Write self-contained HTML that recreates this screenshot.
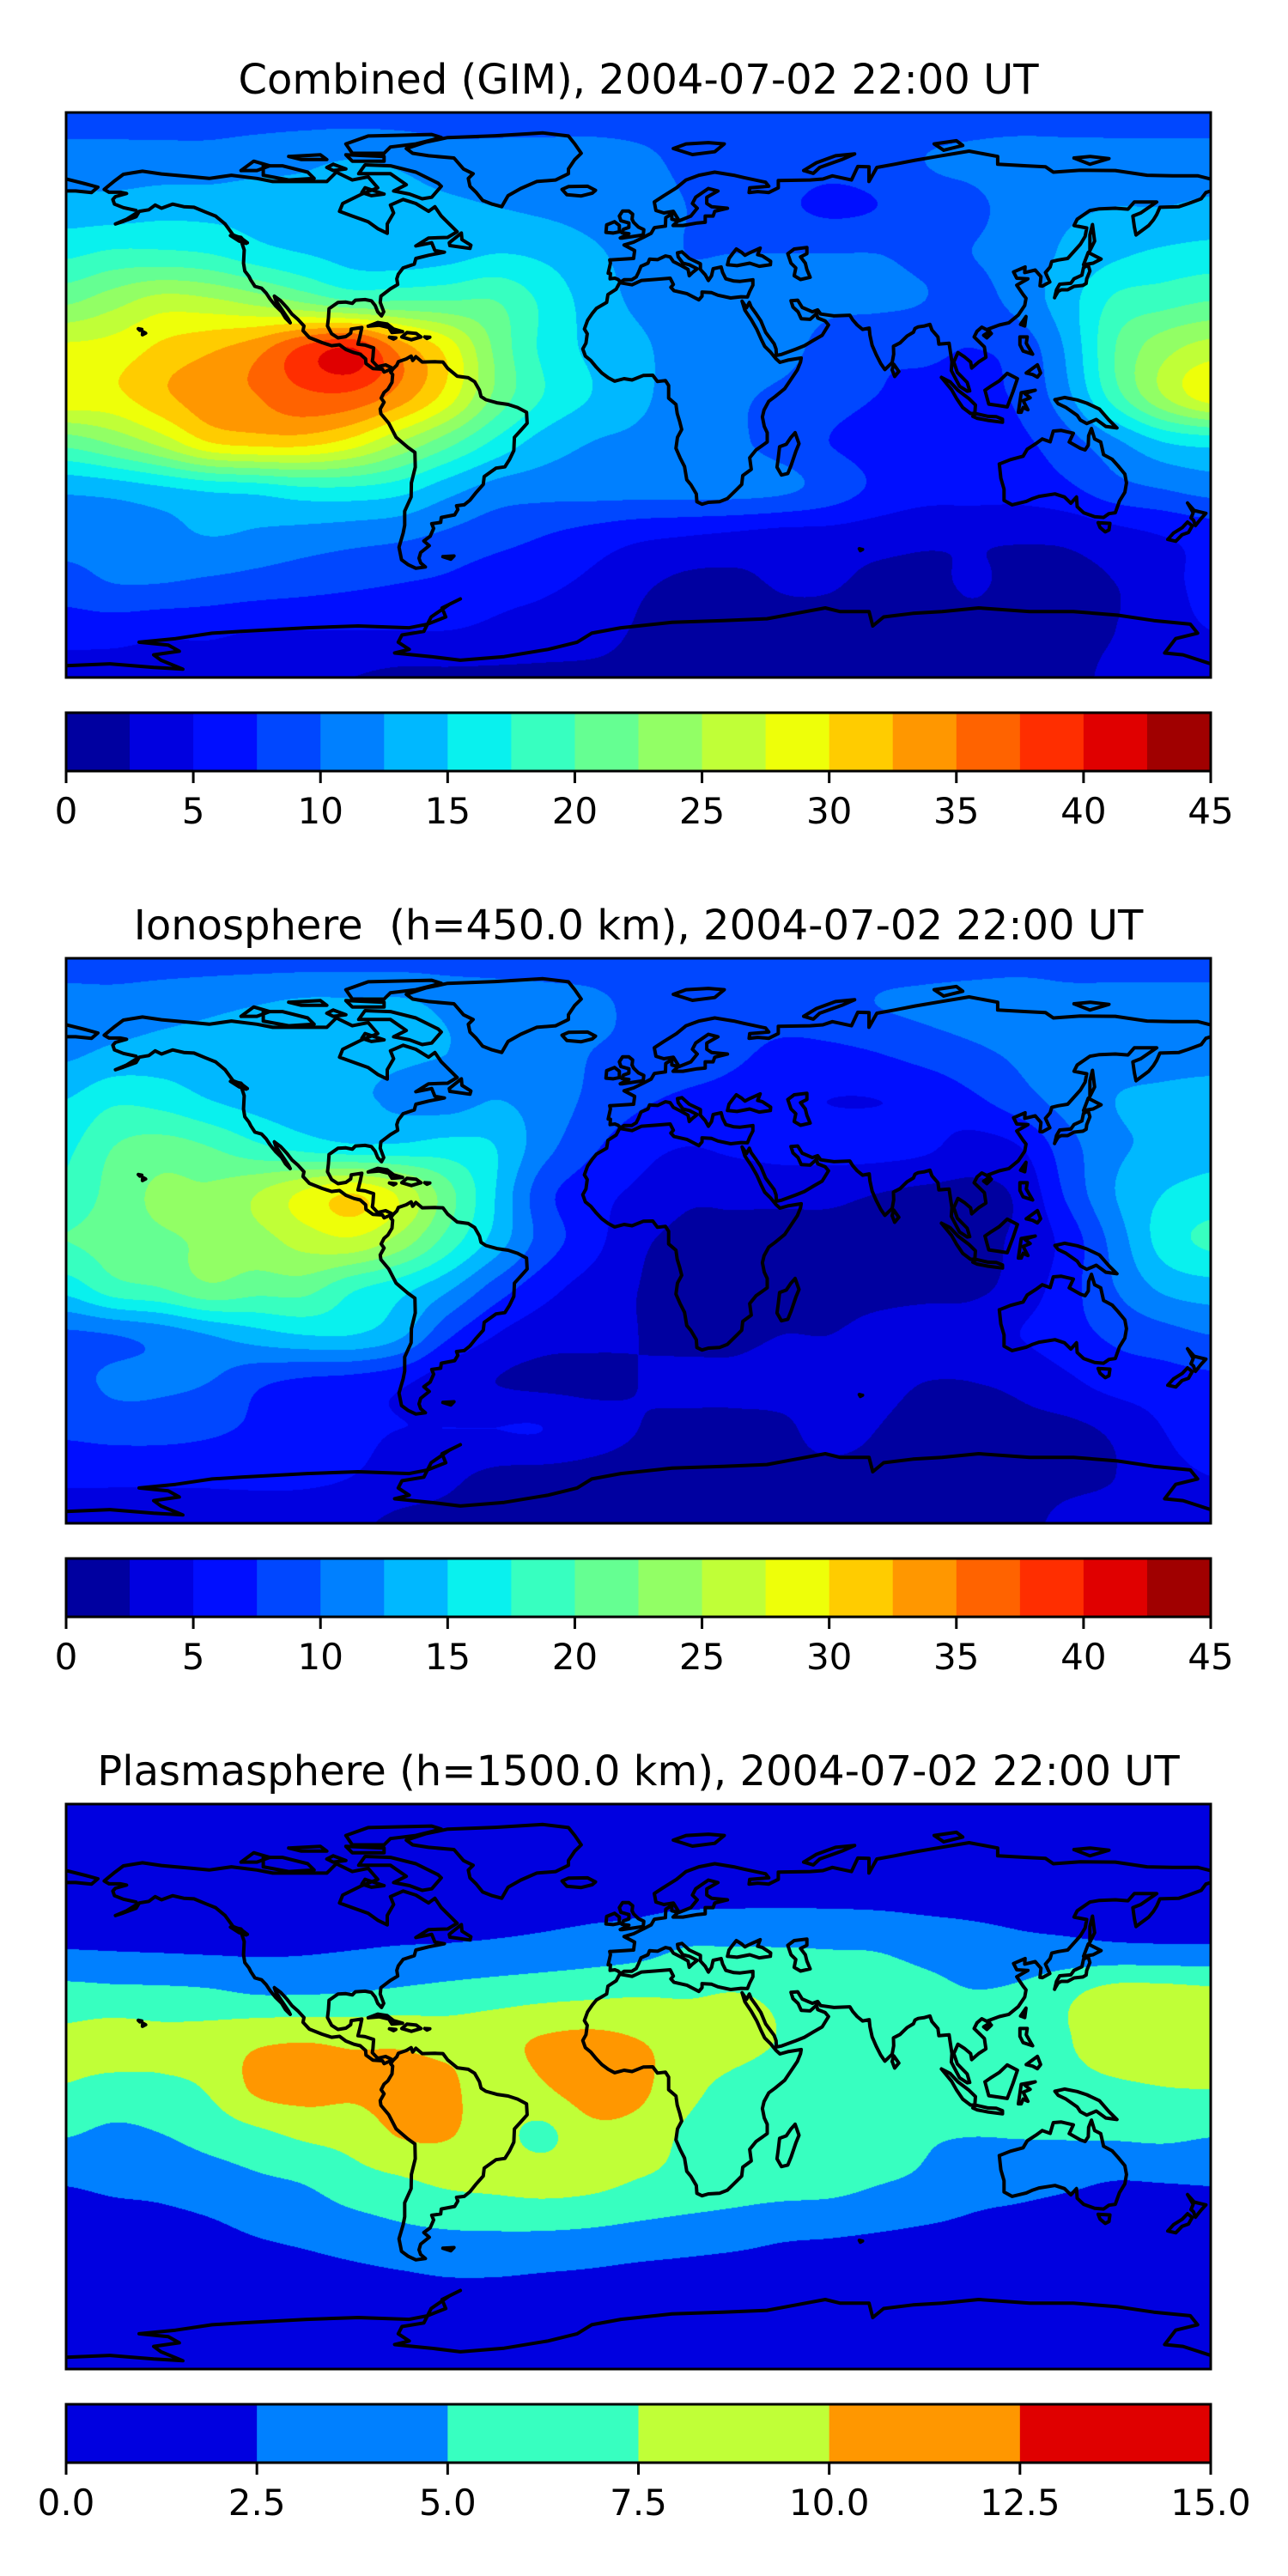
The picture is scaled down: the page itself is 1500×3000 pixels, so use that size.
<!DOCTYPE html>
<html><head><meta charset="utf-8"><style>
html,body{margin:0;padding:0;background:#fff;}
body{width:1500px;height:3000px;position:relative;overflow:hidden;font-family:"DejaVu Sans","Liberation Sans",sans-serif;}
.title{position:absolute;left:0;width:1487px;text-align:center;font-size:48px;white-space:pre;color:#000;line-height:1;}
canvas.map{position:absolute;left:77px;width:1333px;height:658px;}
svg.ov{position:absolute;left:0;top:0;}
</style></head><body>
<div class="title" style="top:69px">Combined (GIM), 2004-07-02 22:00 UT</div>
<div class="title" style="top:1054px">Ionosphere  (h=450.0 km), 2004-07-02 22:00 UT</div>
<div class="title" style="top:2039px">Plasmasphere (h=1500.0 km), 2004-07-02 22:00 UT</div>
<canvas class="map" id="c0" width="1333" height="658" style="top:131px"></canvas>
<canvas class="map" id="c1" width="1333" height="658" style="top:1116px"></canvas>
<canvas class="map" id="c2" width="1333" height="658" style="top:2101px"></canvas>
<svg class="ov" id="ov" width="1500" height="3000"></svg>
<script>
const lons=[-180,-165,-150,-135,-120,-105,-90,-75,-60,-45,-30,-15,0,15,30,45,60,75,90,105,120,135,150,165,180];
const lats=[90,75,60,45,30,15,0,-15,-30,-45,-60,-75,-90];
const gimTec=[
[9,9,9,9,9,9,9,9,9,9,9,9,9,9,9,9,9,9,9,9,9,9,9,9,9],
[11,11,11,11,11.5,12,12.5,12,11,11,11,11,10.5,9.5,9,9,8.5,9,10,10.5,11,11,11,11,11],
[13.5,13.5,14,14,14,13.5,14,13.5,13,12.5,12,11.5,11,10,9,8,7,7.5,9,9.5,11,12,12.5,12.5,13],
[17,18,18,17.5,16,15,14,13.5,14,15,14.5,13,11.5,10,10,10,10,10,9.5,10,11,13,14.5,15.5,16],
[22,24,26,25.5,24,22,20,20,20,20,17,14,12,11,12,11,10.5,10.5,10,9,11,14,18,19,20],
[28,28.5,30.5,32,34,38,40,34,29,22,17,14.5,13,11.5,12,11,9,8,8,7.5,8.5,13,20,24,26],
[29.5,29.5,32,34,35,37,37,34,29,22,17.5,15,13,11.5,10.5,9.5,8.5,7.5,7,7,8,12,19,25,29],
[21,23,26,30,31,31,29,25,21,17,14,12.5,12,11.5,10.5,9,7.5,6.5,6.5,6,7,9,12,15,16],
[13,13.5,14.5,15.5,16,17,17,16,13.5,11.5,11,11,11,11,11,10.5,9,7,6,6,6,7,9,10,11],
[11,11,11.5,12.5,12,11.5,11,10.5,9.5,8.5,7.5,6.5,5.5,5,4.5,4,4,3.5,3,2.8,2.8,3,4,5,6],
[9,10,10,9.5,9,8.5,8,7.5,7,6,5.5,4.5,3,2,2,2.7,2.7,2,2,2.7,2,2,2.5,4,6],
[6,6,5.5,5.5,5,5,5,5,5,4.5,4,3.5,2.3,2,2,2,2,2,2,2,2,2,2.5,4,5],
[4,4,4,4,3.5,3,2.5,2,2,2,2,2,2,2,2,2,2,2,2,2,2,2,3,4,4]];
const ionoTec=[
[9,9,9,9,9,9,9,9,9,9,9,9,9,9,9,9,9,9,9,9,9,9,9,9,9],
[11,11,11.5,12,12.5,13,13,13,12,11.5,11,10.5,9.5,9,8.5,8.5,9,10,10.5,11,11.5,11,11,11,11],
[12,13,13.5,13.5,13.5,13.5,13.5,13,12.5,12,11,10,9.5,9,8,7,7,7.5,8.5,9.5,10.5,11.5,11.5,11.5,11.5],
[15,17,16.5,15,14,13.5,13,12,11.5,12.5,11.5,9.5,8,7,6.5,5.5,5,5,5.5,7,9,11,12.5,13,13.5],
[17,20,21,20,18,16.5,15.5,15.5,16,15,11,8,6,5,5.5,6,6,6,5.5,4,5,9,12,13,14],
[18,21,23,23,25,28,30,27,21,15,8.5,6,4.5,3,3,3,3,2.5,2,2,3,8,12.5,15,16],
[20,21,22,23,24,26,27,24,19,14,9,6,3,2,2,2,2,2,2,2,3,6,11,16,18],
[16,19,20,22,21,21,18,16,13,9,6,4,2.5,2,2,2,2,2,2,2,3.5,6.5,10,13,14],
[9.5,10,11,12.5,14,15,15,13,8,5,3.5,3,2.5,2,2,2.5,2.5,3,3.5,4,5,6.5,8,9,10],
[9,10.5,10.5,10,8,7,6.5,5.5,3.5,2.5,2,2,2.5,3,3,3.5,3.5,3,2.5,2.5,3,4.5,6,6.5,7],
[8,8.5,8.5,8,7,6,5.5,5,5,5,5,3.5,2.5,2,2,2,3.5,2.5,2,2,2,2,3,5,7],
[5.5,5.5,5.5,5.5,5.5,5.5,5,4,3,2,1.8,1.8,1.8,1.8,1.8,1.8,1.8,1.8,1.8,1.8,1.8,2,2.5,4,5],
[4,4,4,4,4,3.5,3,2,2,2,2,2,2,2,2,2,2,2,2,2,2,3,3.5,4,4]];
const plasmaTec=[
[1,1,1,1,1,1,1,1,1,1,1,1,1,1,1,1,1,1,1,1,1,1,1,1,1],
[1.2,1.2,1.2,1.2,1.2,1.2,1.2,1.2,1.2,1.2,1.2,1.2,1.2,1.2,1.2,1.2,1.2,1.2,1.2,1.2,1.2,1.2,1.2,1.2,1.2],
[1.5,1.5,1.5,1.5,1.5,1.5,1.5,1.5,1.5,1.5,1.6,1.7,1.8,1.9,2.0,2.0,2.0,1.9,1.8,1.8,1.8,1.8,1.8,1.8,1.8],
[2.3,2.2,2.1,2.0,2.0,2.1,2.3,2.5,2.6,2.8,3.1,3.5,3.9,4.9,4.9,4.9,4.8,4.7,4.0,3.4,3.0,2.9,2.7,2.6,2.6],
[5.8,5.6,5.5,5.3,4.8,4.8,5.0,5.4,5.8,6.2,6.6,6.9,7.2,7.2,7.5,7.0,6.6,6.3,5.8,5.1,5.5,7.0,8.3,8.3,8.0],
[8,8.5,8.2,8.5,9.5,9.8,9.5,9.5,9,9.3,10.2,10.6,10.0,9,8.3,7.4,7,6.5,6.3,6.2,6.5,7.4,8.5,8.5,8.5],
[7.4,6.8,7,7.8,10.5,11,10.5,10.8,10.5,8.5,9.8,11.2,10.6,8.2,7.0,6.6,6.5,6.3,6.3,6.3,6.3,6.8,7.2,7.5,7.6],
[5.2,4.5,5,6,7,8,8.5,10.2,10.2,8.5,7,9.3,9.0,7.2,6.8,6.6,6.4,6,5.3,5.1,5.2,5.3,5.4,5.6,5.2],
[2.7,3,3.2,3.8,4.6,5.2,6.5,7.2,8,8.2,8.4,8.3,7.4,6.8,6.4,6.2,6,5.2,4.6,3.5,3.2,2.9,2.5,2.6,2.7],
[1.6,1.7,1.9,2.2,2.8,3.3,4,4.7,5.1,5.2,5.2,5.0,4.6,4.2,3.8,3.2,3.0,2.7,2.4,2.1,1.9,1.7,1.6,1.5,1.5],
[1.2,1.2,1.2,1.3,1.5,1.7,2,2.3,2.6,2.6,2.4,2.2,1.9,1.7,1.5,1.4,1.3,1.2,1.2,1.2,1.2,1.2,1.2,1.2,1.2],
[1,1,1,1,1,1,1,1,1,1,1,1,1,1,1,1,1,1,1,1,1,1,1,1,1],
[1,1,1,1,1,1,1,1,1,1,1,1,1,1,1,1,1,1,1,1,1,1,1,1,1]];
const ionoLevelStep=2.5, gimLevels=18, plasmaLevels=6;
const tickLabelsA=["0","5","10","15","20","25","30","35","40","45"];
const tickLabelsB=["0.0","2.5","5.0","7.5","10.0","12.5","15.0"];

const coasts=[
[[-168,65.5],[-165,68],[-162,70.3],[-156,71.3],[-150,70.4],[-141,69.6],[-135,69],[-128,70],[-120,69],[-115,68],[-108,68],[-98,68],[-95,71],[-90,68.5],[-85,69.5],[-82,66],[-87,64],[-93,61],[-94,58.5],[-90,57],[-85,55.2],[-82,53],[-79,51.5],[-79,54.5],[-77,58],[-78,60.5],[-74,62.3],[-70,61],[-66,58.5],[-64,60],[-62,57],[-60,55],[-57,52],[-60,50.2],[-66,50],[-70,47.5],[-65,48.5],[-64,46],[-61,45.5],[-66,44.5],[-70,43.5],[-70.5,41.7],[-74,40.5],[-75.5,38.5],[-76,37],[-75.7,35.2],[-78,33.8],[-81,31.5],[-81.2,29.5],[-80.1,26.5],[-80.8,25.2],[-82,26.5],[-82.8,28.5],[-84,30],[-86,30.4],[-89,30.2],[-90,29.2],[-92,29.6],[-94.5,29.5],[-97.3,27.5],[-97.5,24.5],[-97.8,22],[-96.5,19.5],[-94.5,18.2],[-92,18.6],[-90.5,19.7],[-90.3,21],[-87,21.5],[-87.5,19],[-88.2,16.2],[-86,15.9],[-83.3,15],[-83.5,12],[-83.7,10.8],[-82,9],[-79.5,9.6],[-77.5,8.6],[-77.3,8.2],[-78.4,8],[-80,7.3],[-80.5,8.2],[-83.5,8.4],[-85.7,10],[-85.8,11.5],[-87.5,13],[-89.5,13.5],[-92,14.5],[-94,16],[-96.5,15.7],[-99.5,16.7],[-103.5,18.3],[-105.5,20.5],[-105.2,22],[-107,24],[-109,25.8],[-110.5,27.8],[-112.5,30],[-114.5,31.5],[-114,30],[-112,27],[-110,24],[-109.5,23],[-111,24.5],[-112.2,26.5],[-114.2,28.5],[-115.8,30.5],[-117.1,32.5],[-118.5,34],[-120.6,34.6],[-121.9,36.6],[-122.5,37.8],[-123.8,39.5],[-124.2,42],[-124,46.2],[-124.7,48.4],[-123,48.5],[-125,50],[-127.5,51],[-130,54.5],[-133,57],[-136,58.2],[-139.8,59.8],[-143,60],[-146.5,60.8],[-150,59.5],[-152,60.5],[-154,59],[-157,58.5],[-158,56.8],[-162,55.3],[-164.5,54.5],[-161,56],[-157.8,58],[-158,58.8],[-162,59.7],[-164.8,60.8],[-165.3,62.3],[-164.5,63.2],[-161,64.2],[-163,64.6],[-166.5,64.6],[-168,65.5]],
[[-73,78.5],[-67,80.5],[-60,82],[-45,82.6],[-30,83.5],[-22,82.5],[-20,80],[-18,77],[-20,75],[-22,72],[-22,70.5],[-26,68.5],[-32,68],[-37,65.8],[-41,63.5],[-43,60],[-46,60.8],[-49,62],[-51,64.5],[-53,66.5],[-53.5,69],[-52,70.5],[-55,72],[-58,75.5],[-66,76.2],[-71,77],[-73,78.5]],
[[-62,66.5],[-65,63],[-68,62.5],[-72,64],[-77,65],[-73,67],[-78,70.5],[-88,70.5],[-86,73.3],[-78,73],[-70,71],[-63,67.5],[-62,66.5]],
[[-118,70],[-118,73],[-112,73],[-104,71],[-102,69],[-110,68.5],[-118,70]],
[[-80,77],[-90,77],[-92,80],[-85,82.5],[-65,83],[-62,82],[-70,80],[-78,79],[-80,77]],
[[-80,76],[-92,76.5],[-90,74.5],[-80,74.5],[-80,76]],
[[-125,71.5],[-121,74.5],[-116,73],[-120,71.5],[-125,71.5]],
[[-110,76],[-100,76.5],[-98,75],[-106,75],[-110,76]],
[[-96,73.5],[-92,72],[-96,71.5],[-98,72.5],[-96,73.5]],
[[-86,66],[-80,64],[-84,63.5],[-87,64.5],[-86,66]],
[[-59.3,47.6],[-53,46.7],[-52.7,47.7],[-55.5,49.5],[-55.7,51.6],[-59.5,48.5],[-59.3,47.6]],
[[-24,65.5],[-22,66.4],[-16,66.5],[-13.5,65.2],[-14.5,64.3],[-18,63.4],[-22.5,63.8],[-24,65.5]],
[[11,78.5],[15,80],[22,80.4],[27,80],[24,77.5],[17,76.6],[11,78.5]],
[[52,71.5],[56,74],[62,76.2],[68,76.8],[64,75],[57,72.5],[55,70.6],[52,71.5]],
[[96,78],[102,79.5],[100,81],[93,80],[96,78]],
[[137,75.5],[142,76],[148,75.3],[142,73.5],[137,75.5]],
[[-180,68.8],[-174,67.3],[-170,66.2],[-172,64.5],[-177,65],[-180,65]],
[[-9,43],[-1.5,43.5],[-1.2,46],[-4.5,47.8],[-1.5,48.7],[1.5,50.2],[4,51.5],[5,53.3],[8.5,53.8],[8.6,56.5],[10.5,57.7],[10.5,56],[12.5,55.5],[10.9,54],[14,54],[18.5,54.8],[21,55],[21,57],[23.5,57],[24,58.5],[28,59.5],[23,60],[21.5,61],[21.5,63],[25,65],[22,65.8],[18,63],[17,61],[18.5,59.5],[16.5,57],[14.5,56.2],[12.8,55.5],[11,58.5],[8,58],[5.5,58.8],[5,61.5],[8,63.5],[12,66],[15,68.5],[19,70],[24,71],[30,70],[33,69.3],[40,67.8],[41,66.5],[35,66],[34.8,64.5],[37.5,64.8],[41,64.5],[44,66],[44,68.3],[54,68.5],[58,68.8],[61,69.8],[67,68.5],[69,72.8],[72.5,72.7],[72.5,68],[75,72.5],[80.5,73.5],[87,74.8],[94,76],[104,77.7],[113,76],[113,73.5],[122,73],[128,72.7],[130.5,71],[139,71.6],[150,71.5],[160,70],[168,69.8],[176,69.8],[180,68.8]],
[[180,65],[178.5,64.5],[177,62.5],[173,61],[170,60],[164,59.8],[163,57.5],[162,55.8],[160.5,54],[156.5,51],[156,53.5],[155.5,57],[158,58],[163,61.5],[160,61.5],[156,61.5],[154,59.2],[150,59.5],[145,59.3],[142,58.8],[138,56],[137,54],[141,53.2],[140.5,50.5],[139,48],[135,43.5],[132,43],[130,42.5],[129.5,40.8],[128,39],[129.4,36],[127,34.7],[126.3,34.8],[126.6,37.7],[124.8,39.8],[121.5,39],[121.6,40.8],[118,39.2],[119,37.2],[122.5,37],[119,35],[121,32],[121.9,30.8],[121.5,28.5],[119.5,25.5],[116.5,23],[113.5,22.3],[110,21],[110.5,20.3],[108,21.6],[106.5,20.3],[105.6,18.5],[108.8,15.3],[109.3,12],[107,10.5],[104.8,8.6],[104.5,10.5],[102.5,12.2],[100.5,13.5],[99.2,10.5],[100.3,7.2],[103.4,4],[104.2,1.3],[103.4,1.2],[101,2.8],[98.4,7.8],[98.6,10.5],[97.7,16.5],[94.5,16.2],[94.2,18.5],[92.3,20.7],[91.7,22.5],[90,22],[88,21.7],[87,21.2],[86.5,20],[84.5,18.8],[82.3,16.6],[80.2,15.5],[80.3,13],[79.8,10.3],[77.5,8.1],[76.2,10],[74.8,12.8],[73.5,15.8],[72.8,19.1],[72.6,21.3],[70.5,20.9],[68.8,22.3],[67.4,23.9],[66.5,25.4],[61.5,25.2],[57.3,25.8],[56.4,27.1],[54.7,26.5],[51.5,27.9],[50.1,30.2],[48,30],[48.6,28],[50.2,26.5],[51.2,24.3],[54,24.1],[56,25.9],[56.4,24.5],[58.7,23.6],[59.8,22.3],[57.8,19],[55.2,17.5],[52.2,15.7],[49.5,14.6],[45,12.9],[43.4,12.6],[43.3,14.6],[42.7,16.3],[40,20],[38.5,23.6],[37,25.9],[35.5,28],[34.9,29.5],[34,27.8],[32.6,29.9],[33.5,27],[35.5,24],[37.2,21],[38.5,18],[39.7,15.5],[41.5,13.7],[43.2,11.6],[44.5,10.4],[47,11.1],[51.2,11.8],[51,10.5],[50,8],[48,5],[46,2],[43,-0.5],[41,-2],[39.5,-4.8],[39,-7],[39.6,-10],[40.5,-12],[40.5,-15],[37,-17.5],[35,-20],[35.5,-23.7],[32.8,-25.7],[32.5,-28.5],[31,-30],[28,-33],[25.5,-34],[22,-34.2],[20,-34.8],[18.4,-34],[18.2,-31.5],[16.5,-28.6],[15.2,-27],[14.5,-22.8],[13.1,-20],[11.8,-17],[12.3,-13.5],[13.6,-11],[13,-8.5],[12.2,-5.9],[11.8,-3],[9.5,-1],[9.5,3],[8.5,4.6],[6,4.3],[4.5,6.3],[1.5,6.2],[-2,4.8],[-4.5,5.2],[-7.5,4.4],[-9.5,5.5],[-11.5,7],[-13.2,8.8],[-15,11],[-16.7,12.4],[-17.5,14.7],[-16.5,16.5],[-16.1,19.5],[-17,21],[-16,23.8],[-14.5,26],[-13.2,27.6],[-10,29.5],[-9.6,32],[-7,33.7],[-5.9,35.8],[-2,35.1],[1,36.5],[5,36.8],[10,37.2],[11,35.2],[10.2,34.3],[11.2,33.2],[15.2,32.3],[19,30.3],[20,31.5],[20,32.8],[23,32.6],[25,31.8],[29,30.9],[32.3,31.3],[34.3,31.2],[35,33],[36,35],[36,36.7],[32,36.2],[30,36.3],[27.5,37],[26.5,39],[26,40.8],[23.5,40.2],[23,38],[22,36.5],[21,38.3],[19.5,40],[19.5,41.8],[16,43.5],[13.7,45.6],[12.3,45.3],[12.5,44],[14,42],[16,41.5],[18.5,40.2],[17,39],[16,38],[15.6,40],[13.5,41.2],[11,42.5],[10,44],[8.5,44.3],[6,43.1],[3.5,43.3],[3,42],[0.8,41],[0,39],[-0.7,37.6],[-2.1,36.7],[-4.5,36.7],[-5.6,36],[-6.4,36.8],[-7.4,37.2],[-8.9,37],[-8.8,38.7],[-9.5,38.8],[-8.8,42],[-9,43]],
[[28,41.5],[31,41.2],[35,42],[38,41],[41.5,41.5],[41.6,42.6],[39,44.3],[37.5,44.7],[38.3,46.8],[35,45.3],[33.5,44.5],[32.5,45.4],[30.8,46.5],[29.6,45],[28.5,43.5],[28,41.5]],
[[47,45],[49,46.5],[53,47],[53,45],[51,44],[52.5,42],[53,40],[54,37.5],[51,36.8],[49,38],[49.5,40.5],[48,42],[47,45]],
[[-5,50],[1.5,51],[1.7,52.7],[0,53.5],[-1.5,55],[-2,56],[-1.8,57.6],[-3,58.6],[-5,58.6],[-6,57],[-5.5,55.5],[-3,54.8],[-3,53.4],[-4.7,52.8],[-5.2,51.7],[-3,51.4],[-5.7,50],[-5,50]],
[[-6,52],[-6,54],[-7.5,55.2],[-10,54.2],[-10.2,51.8],[-8,51.6],[-6,52]],
[[130.9,31],[131.5,33.5],[132.5,35.3],[136,35.6],[137,37],[139.5,38.2],[140,40.6],[141.5,41.3],[142,39.5],[141,37],[140.8,35.5],[139.8,34.9],[137,34.6],[135,33.5],[133,33.5],[132,33],[131,31.3],[130.9,31]],
[[140,41.5],[141.5,45.4],[145.5,43.3],[143,42],[140,41.5]],
[[142,46],[143.5,49],[142.8,54.3],[142,51],[142,46]],
[[120.2,22.5],[121.9,25],[121.5,22],[120.2,22.5]],
[[108.6,19],[110.3,20.1],[111,19.6],[109.6,18.2],[108.6,19]],
[[79.8,8],[80.3,9.8],[81.9,7.5],[80.6,5.9],[79.8,8]],
[[120,18.5],[122.3,18.5],[122,16.5],[124,13],[121,14],[120,16],[120,18.5]],
[[122,7],[125.5,9.6],[126.5,7],[125.5,5.7],[124,6.5],[122,7]],
[[109,1.5],[111,2.9],[113.5,4.5],[116,6.9],[119.2,5.2],[117.8,1],[116,-3.8],[113,-3.3],[110.2,-2.9],[109,1.5]],
[[95.3,5.6],[98,4.2],[100.5,1.5],[104,-1.2],[106,-3.2],[105.8,-5.8],[104.5,-5.9],[102,-4],[100,-1],[98.5,1.7],[95.3,5.6]],
[[105.2,-6.8],[106,-5.9],[110,-6.8],[112.5,-6.9],[114.5,-7.7],[114.5,-8.7],[110,-8.1],[106.5,-7.4],[105.2,-6.8]],
[[119.5,-5.5],[120.4,0.7],[124.8,1.5],[121.5,0.5],[123.2,-0.9],[121,-1.8],[122.5,-4.7],[121,-4],[120.4,-5.5],[119.5,-5.5]],
[[131,-1.5],[134,-0.8],[138,-1.6],[141,-2.6],[145,-4.5],[148,-8],[150.5,-10.5],[147,-10],[144,-7.8],[141,-9.1],[139,-8],[138,-6.5],[134.5,-4],[132,-2.8],[131,-1.5]],
[[113.5,-22],[114,-26.5],[115,-30],[115,-33.6],[117.5,-35],[122,-33.9],[124,-33],[126,-32.3],[131,-31.5],[134,-32.5],[136,-34.5],[137.8,-32.5],[138,-35.6],[140,-37.5],[143.5,-38.8],[146.3,-39],[148,-37.8],[150,-37.5],[151.3,-33.8],[153,-31],[153.5,-28],[153,-25.2],[150.8,-22.5],[149,-20.5],[146.3,-19],[145.4,-15],[143.5,-14],[142.5,-10.7],[141.6,-13],[141.5,-16],[140.5,-17.5],[139,-17],[135.5,-15],[136.8,-12.2],[133,-11.3],[130.5,-11.5],[129.5,-14.9],[127,-14],[125,-15.5],[122.3,-17.3],[121,-19.5],[117,-20.6],[114,-21.8],[113.5,-22]],
[[144.6,-40.7],[148.3,-40.9],[148,-43],[146.8,-43.6],[145.2,-42.2],[144.6,-40.7]],
[[172.7,-34.4],[174.8,-36.8],[178.5,-37.7],[177,-39.3],[175.2,-41.6],[174.6,-39.9],[173.8,-39.2],[174.5,-37.5],[172.7,-34.4]],
[[172.7,-40.5],[174.2,-41.7],[173,-43.8],[171,-44.5],[169,-46.6],[166.5,-46],[168.3,-44],[171,-42.3],[172.7,-40.5]],
[[49.3,-12],[50.5,-15.5],[49.5,-18],[48,-22.5],[47,-25],[45,-25.5],[43.6,-23],[44,-20],[44.4,-16.5],[46.5,-15.7],[48,-13.5],[49.3,-12]],
[[-85,21.9],[-82,23.1],[-79,22.6],[-77,21],[-74.2,20.2],[-77.5,19.9],[-78.5,21.5],[-81.5,22.2],[-85,21.9]],
[[-74.4,18.5],[-72.8,19.9],[-69.9,19.6],[-68.4,18.5],[-71.4,17.6],[-74.4,18.5]],
[[-78.3,18.4],[-76.3,18.2],[-77,17.8],[-78.3,18.4]],
[[-67.2,18.5],[-65.6,18.4],[-66.5,18],[-67.2,18.5]],
[[-156,19.2],[-155,19.7],[-155.9,20.2],[-156,19.2]],
[[-157.3,21.1],[-156.2,20.9],[-156.8,20.6],[-157.3,21.1]],
[[-123.4,48.3],[-125.5,49],[-128.3,50.8],[-125,50.2],[-123.4,48.3]],
[[-77.3,8.2],[-76,9.5],[-75.5,10.6],[-73,11.5],[-71.5,12.4],[-71,11],[-70,12.2],[-68,10.5],[-64,10.6],[-61.5,10.5],[-60,8.5],[-57,6],[-53.5,5.5],[-51.5,4.2],[-50,1.5],[-49.5,-0.5],[-48,-1.5],[-44.5,-2.5],[-41,-3],[-38,-4],[-35.2,-5.5],[-35,-9],[-37.2,-11.5],[-39,-13.5],[-39.2,-17.7],[-40.5,-20.5],[-42,-22.9],[-44.8,-23.3],[-48.5,-26],[-48.8,-28.5],[-51,-31],[-53,-33.5],[-54.8,-35],[-57.2,-35.3],[-56.8,-36.5],[-57.8,-38.2],[-62,-39],[-62.2,-40.6],[-65,-41],[-64.4,-42.5],[-65.5,-45],[-67.5,-46.5],[-65.8,-48],[-68.5,-50.2],[-69,-52],[-68.5,-53.5],[-67,-54.8],[-70,-55.2],[-72.5,-54],[-74.5,-52.5],[-75.3,-48.5],[-74,-44],[-73.5,-41.5],[-73.5,-37],[-71.5,-32.5],[-71.4,-28],[-70.2,-23],[-70.3,-18.3],[-72.5,-16.7],[-76.2,-13.5],[-78.5,-9],[-81,-6],[-81.2,-4.5],[-80,-2.3],[-80.9,-1],[-80,0.8],[-78.8,1.8],[-77.5,4],[-77.3,6.5],[-77.9,7.2],[-77.3,8.2]],
[[-61.5,-51.5],[-58,-51.3],[-59,-52.3],[-61.5,-51.5]],
[[69.5,-49],[70.5,-49.2],[69.8,-49.6],[69.5,-49]]
];
const antarcticaTrace=[[0,1535],[60,1530],[120,1540],[160,1545],[130,1520],[120,1505],[155,1495],[140,1478],[100,1470],[150,1460],[200,1445],[240,1440],[330,1430],[400,1425],[470,1430],[495,1420],[520,1400],[515,1375],[540,1350],[525,1365],[500,1400],[490,1440],[460,1450],[455,1470],[470,1490],[450,1500],[500,1510],[540,1520],[600,1510],[660,1490],[700,1470],[720,1445],[760,1430],[830,1415],[900,1410],[960,1405],[1000,1390],[1040,1375],[1060,1385],[1100,1385],[1105,1425],[1120,1400],[1160,1390],[1200,1385],[1250,1375],[1320,1385],[1380,1385],[1440,1395],[1490,1410],[1540,1420],[1550,1445],[1520,1460],[1505,1500],[1530,1505],[1568,1530]];

function lerpSeg(s,t){for(let i=0;i<s.length-1;i++){if(t<=s[i+1][0]){const a=s[i],b=s[i+1];return a[1]+(b[1]-a[1])*(t-a[0])/(b[0]-a[0]);}}return s[s.length-1][1];}
const R=[[0,0],[0.35,0],[0.66,1],[0.89,1],[1,0.5]],G=[[0,0],[0.125,0],[0.375,1],[0.64,1],[0.91,0],[1,0]],B=[[0,0.5],[0.11,1],[0.34,1],[0.65,0],[1,0]];
function jet(t){return [Math.round(255*lerpSeg(R,t)),Math.round(255*lerpSeg(G,t)),Math.round(255*lerpSeg(B,t))];}
function cr(p0,p1,p2,p3,t){return p1+0.5*t*(p2-p0+t*(2*p0-5*p1+4*p2-p3+t*(3*(p1-p2)+p3-p0)));}
function sample(g,fx,fy){const nx=g[0].length,ny=g.length;const i=Math.floor(fx),j=Math.floor(fy);const tx=fx-i,ty=fy-j;
 const cx=k=>Math.max(0,Math.min(nx-1,k)),cy=k=>Math.max(0,Math.min(ny-1,k));const r=[];
 for(let m=-1;m<=2;m++){const row=g[cy(j+m)];r.push(cr(row[cx(i-1)],row[cx(i)],row[cx(i+1)],row[cx(i+2)],tx));}
 return cr(r[0],r[1],r[2],r[3],ty);}
function drawField(id,g,n){const c=document.getElementById(id),ctx=c.getContext('2d');const W=c.width,H=c.height;
 const im=ctx.createImageData(W,H),d=im.data;const cols=[];for(let i=0;i<n;i++)cols.push(jet((i+0.5)/n));
 for(let y=0;y<H;y++){const fy=(y+0.5)/H*(lats.length-1);for(let x=0;x<W;x++){const fx=(x+0.5)/W*(lons.length-1);
  let k=Math.floor(sample(g,fx,fy)/ionoLevelStep);if(k<0)k=0;if(k>n-1)k=n-1;const cc=cols[k],o=(y*W+x)*4;d[o]=cc[0];d[o+1]=cc[1];d[o+2]=cc[2];d[o+3]=255;}}
 ctx.putImageData(im,0,0);}
drawField('c0',gimTec,gimLevels);drawField('c1',ionoTec,gimLevels);drawField('c2',plasmaTec,plasmaLevels);

const NS='http://www.w3.org/2000/svg';const ov=document.getElementById('ov');
const MX=77,MW=1333,MH=658,TOPS=[131,1116,2101];
function px(lon){return MX+(lon+180)/360*MW;}
function py(lat,top){return top+(90-lat)/180*MH;}
function mk(tag,attrs){const e=document.createElementNS(NS,tag);for(const k in attrs)e.setAttribute(k,attrs[k]);return e;}
const antLL=antarcticaTrace.map(p=>[p[0]/1568*360-180,90-p[1]/1568*180]);
const panelNames=['combined','ionosphere','plasmasphere'];
TOPS.forEach((top,pi)=>{
 const cp=mk('clipPath',{id:'clip'+pi});cp.appendChild(mk('rect',{x:MX,y:top,width:MW,height:MH}));ov.appendChild(cp);
 const g=mk('g',{'clip-path':'url(#clip'+pi+')'});
 
 
 coasts.concat([antLL]).forEach(poly=>{const d=poly.map((p,i)=>(i?'L':'M')+px(p[0]).toFixed(1)+','+py(p[1],top).toFixed(1)).join('');
  const pth=mk('path',{d:d,fill:'none',stroke:'#000','stroke-width':4,'stroke-linejoin':'round','stroke-linecap':'round'});
  
  
  g.appendChild(pth);});
 ov.appendChild(g);
 const fr=mk('rect',{x:MX,y:top,width:MW,height:MH,fill:'none',stroke:'#000','stroke-width':3});
 
 
 ov.appendChild(fr);
 const n=pi<2?gimLevels:plasmaLevels;const labels=pi<2?tickLabelsA:tickLabelsB;const cbTop=top+699,cbH=68;
 for(let i=0;i<n;i++){const cc=jet((i+0.5)/n);const r=mk('rect',{x:MX+i*MW/n,y:cbTop,width:MW/n+0.6,height:cbH,fill:'rgb('+cc.join(',')+')'});
  
  
  ov.appendChild(r);}
 const cf=mk('rect',{x:MX,y:cbTop,width:MW,height:cbH,fill:'none',stroke:'#000','stroke-width':3});
 
 
 ov.appendChild(cf);
 labels.forEach((lb,i)=>{const x=MX+i*MW/(labels.length-1);
  const tk=mk('line',{x1:x,x2:x,y1:cbTop+cbH,y2:cbTop+cbH+14,stroke:'#000','stroke-width':3});
  
  
  ov.appendChild(tk);
  const t=mk('text',{x:x,y:cbTop+cbH+61,'text-anchor':'middle','font-size':42,'font-family':'DejaVu Sans, Liberation Sans, sans-serif',fill:'#000'});
  t.textContent=lb;
  
  
  ov.appendChild(t);});
});
</script>
</body></html>
